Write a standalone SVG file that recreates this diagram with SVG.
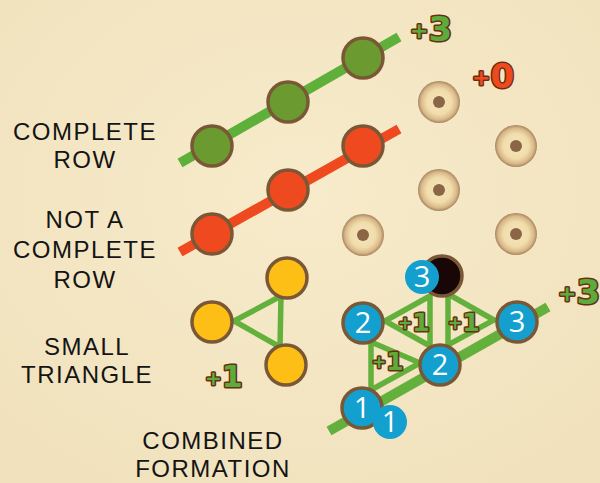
<svg xmlns="http://www.w3.org/2000/svg" width="600" height="483" viewBox="0 0 600 483">
<defs>
<radialGradient id="donut" cx="50%" cy="50%" r="50%">
<stop offset="0" stop-color="#f6e6bd"/>
<stop offset="0.6" stop-color="#f1dcab"/>
<stop offset="0.85" stop-color="#d9b98a"/>
<stop offset="1" stop-color="#a88560"/>
</radialGradient>
<radialGradient id="bg" cx="50%" cy="40%" r="70%">
<stop offset="0" stop-color="#f7ebcb"/>
<stop offset="1" stop-color="#f1e2bd"/>
</radialGradient>
</defs>
<style>
.lbl{font-family:"Liberation Sans","Noto Sans",sans-serif;font-size:24px;fill:#141414;text-anchor:middle;letter-spacing:1.5px}
.ring{stroke:#7a5836;stroke-width:3.5}
.g{fill:#6b9a31}
.o{fill:#ef4a1f}
.y{fill:#fdbe16}
.b{fill:#13a0cf}
.k{fill:#190606}
.dn{fill:url(#donut)}
.dot{fill:#8a6646}
.num{font-family:"Open Sans","Noto Sans","Liberation Sans",sans-serif;font-size:29px;fill:#ffffff;text-anchor:middle}
.sc{font-family:"DejaVu Sans","Liberation Sans",sans-serif;font-weight:bold;stroke:#6a2f10;stroke-width:3;paint-order:stroke;stroke-linejoin:round}
.scg{fill:#5cab3b}
.scr{fill:#ef4a1f}
.tri{fill:none;stroke:#64b03d;stroke-width:5.5;stroke-linejoin:miter}
</style>
<rect width="600" height="483" fill="url(#bg)"/>

<g id="labels">
<text class="lbl" x="85" y="140">COMPLETE</text>
<text class="lbl" x="85" y="168">ROW</text>
<text class="lbl" x="85" y="228">NOT A</text>
<text class="lbl" x="85" y="258">COMPLETE</text>
<text class="lbl" x="85" y="288">ROW</text>
<text class="lbl" x="87" y="355">SMALL</text>
<text class="lbl" x="87" y="383">TRIANGLE</text>
<text class="lbl" x="213" y="449">COMBINED</text>
<text class="lbl" x="213" y="477">FORMATION</text>
</g>

<g id="connectors">
<line x1="180" y1="163" x2="399" y2="37" stroke="#5fb03a" stroke-width="10"/>
<line x1="180" y1="252" x2="399" y2="129" stroke="#ef4a1f" stroke-width="10"/>
<polygon class="tri" points="234,321 281,296 280,347"/>
<line x1="329" y1="431" x2="548" y2="307" stroke="#64b03d" stroke-width="10"/>
<polygon class="tri" points="385,321 430,296 430,346"/>
<polygon class="tri" points="448,294 494,320 448,345"/>
<polygon class="tri" points="371,342 420,363 371,390"/>
</g>

<g id="complete-row">
<circle class="g ring" cx="212" cy="146" r="20"/>
<circle class="g ring" cx="288" cy="102" r="20"/>
<circle class="g ring" cx="363" cy="58" r="20"/>
<text class="sc scg" x="410" y="41" font-size="34"><tspan font-size="22" dy="-3">+</tspan><tspan dy="3">3</tspan></text>
</g>

<g id="incomplete-row">
<circle class="o ring" cx="212" cy="234" r="20"/>
<circle class="o ring" cx="288" cy="190" r="20"/>
<circle class="o ring" cx="363" cy="146" r="20"/>
<text class="sc scr" x="472" y="88" font-size="34"><tspan font-size="22" dy="-3">+</tspan><tspan dy="3">0</tspan></text>
</g>

<g id="empty-spots">
<circle class="dn" cx="439" cy="102" r="21"/><circle class="dot" cx="439" cy="102" r="6"/>
<circle class="dn" cx="516" cy="146" r="21"/><circle class="dot" cx="516" cy="146" r="6"/>
<circle class="dn" cx="439" cy="190" r="21"/><circle class="dot" cx="439" cy="190" r="6"/>
<circle class="dn" cx="516" cy="234" r="21"/><circle class="dot" cx="516" cy="234" r="6"/>
<circle class="dn" cx="363" cy="235" r="21"/><circle class="dot" cx="363" cy="235" r="6"/>
</g>

<g id="small-triangle">
<circle class="y ring" cx="212" cy="322" r="20"/>
<circle class="y ring" cx="287" cy="278" r="20"/>
<circle class="y ring" cx="286" cy="365" r="20"/>
<text class="sc scg" x="205" y="387" font-size="30"><tspan font-size="20" dy="-2">+</tspan><tspan dy="2">1</tspan></text>
</g>

<g id="combined-formation">
<circle class="k ring" cx="442" cy="276" r="20"/>
<circle class="b" cx="422" cy="277" r="17"/>
<text class="num" x="422" y="287">3</text>
<circle class="b ring" cx="363" cy="323" r="20"/>
<text class="num" x="363" y="333">2</text>
<circle class="b ring" cx="517" cy="322" r="20"/>
<text class="num" x="517" y="332">3</text>
<circle class="b ring" cx="440" cy="365" r="20"/>
<text class="num" x="440" y="375">2</text>
<circle class="b ring" cx="362" cy="408" r="20"/>
<text class="num" x="362" y="418">1</text>
<circle class="b" cx="390" cy="422" r="17"/>
<text class="num" x="390" y="432">1</text>
<text class="sc scg" x="398" y="331" font-size="25"><tspan font-size="17" dy="-2">+</tspan><tspan dy="2">1</tspan></text>
<text class="sc scg" x="448" y="331" font-size="25"><tspan font-size="17" dy="-2">+</tspan><tspan dy="2">1</tspan></text>
<text class="sc scg" x="372" y="370" font-size="25"><tspan font-size="17" dy="-2">+</tspan><tspan dy="2">1</tspan></text>
<text class="sc scg" x="558" y="304" font-size="34"><tspan font-size="22" dy="-3">+</tspan><tspan dy="3">3</tspan></text>
</g>
</svg>
